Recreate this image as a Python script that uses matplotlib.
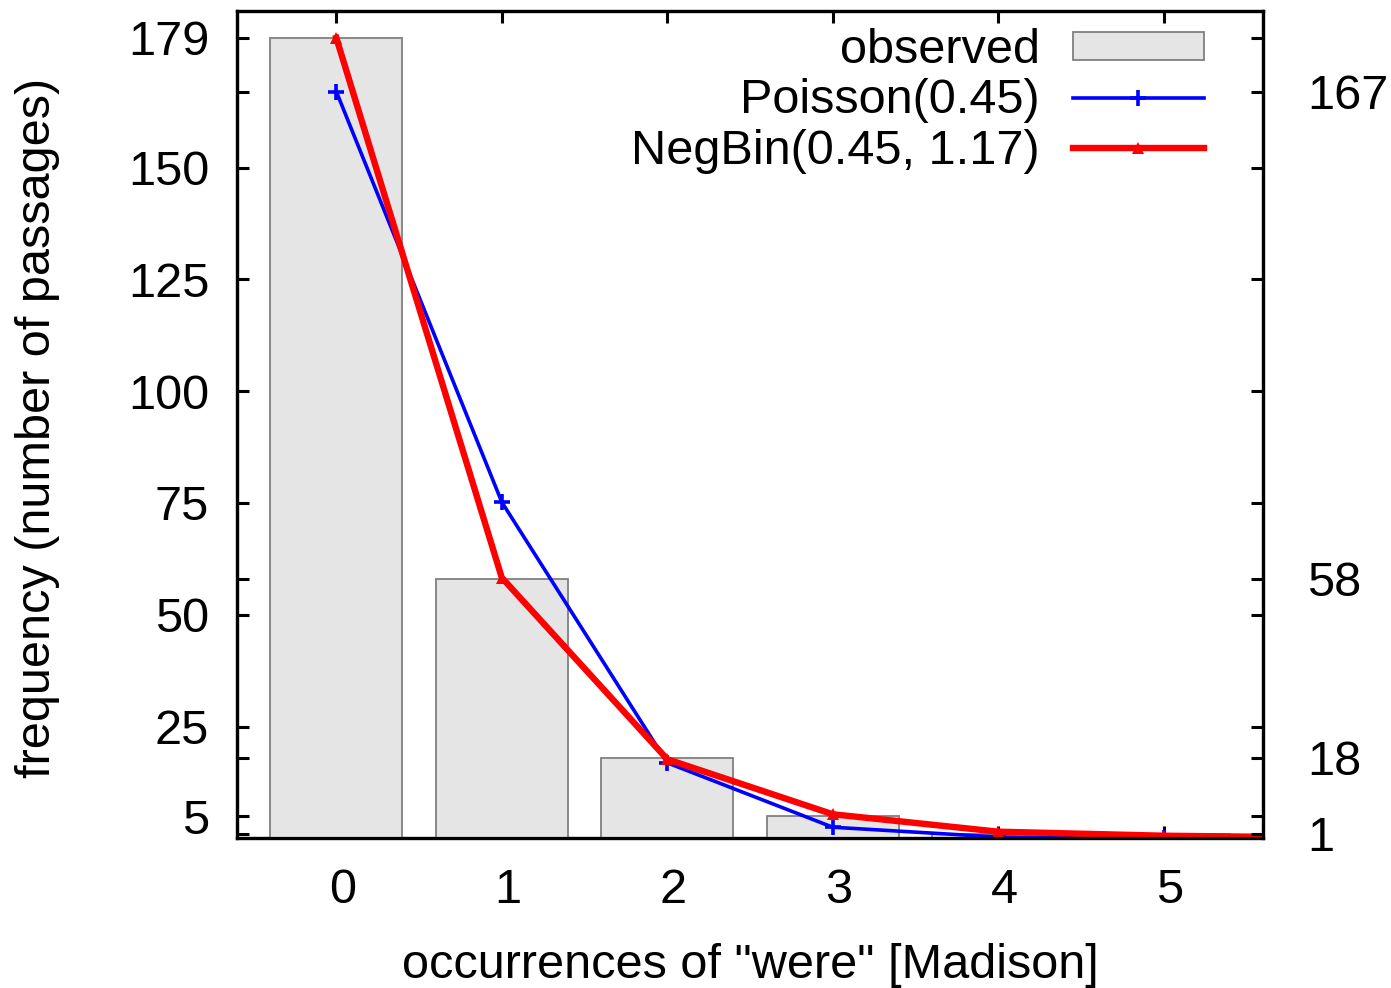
import matplotlib
matplotlib.use("Agg")
import matplotlib.pyplot as plt
from matplotlib.transforms import ScaledTranslation

# ---- data ----
occurrences = [0, 1, 2, 3, 4, 5]
observed = [179, 58, 18, 5, 1, 1]
poisson_x = [0, 1, 2, 3, 4, 5, 6]
poisson = [167.0, 75.2, 16.9, 2.5, 0.3, 0.03, 0.0]
negbin_x = [0, 1, 2, 3, 4, 5, 6]
negbin = [179.0, 58.3, 17.7, 5.4, 1.5, 0.6, 0.2]
left_ticks = [5, 25, 50, 75, 100, 125, 150, 179]
right_ticks = [1, 18, 58, 167]
x_ticks = [0, 1, 2, 3, 4, 5]
labels = ["observed", "Poisson(0.45)", "NegBin(0.45, 1.17)"]
xlabel = 'occurrences of "were" [Madison]'
ylabel = "frequency (number of passages)"

plt.rcParams['font.family'] = ['Liberation Sans', 'DejaVu Sans']
FS = 35

W, H = 1391, 988
fig = plt.figure(figsize=(W / 100, H / 100), dpi=100)
L, R, T, B = 237, 1263, 11, 838.4
ax = fig.add_axes([L / W, 1 - B / H, (R - L) / W, (B - T) / H])

h_bar = ax.bar(occurrences, observed, width=0.8, color="#e5e5e5",
               edgecolor="#808080", linewidth=1.3, zorder=3, label=labels[0])
h_poi, = ax.plot(poisson_x, poisson, color="#0000ff", lw=2.6, marker="+", ms=11, mew=2.6,
                 zorder=4, label=labels[1])
h_nb, = ax.plot(negbin_x, negbin, color="#ff0000", lw=4.6, marker="^", ms=8, mew=0,
                zorder=5, label=labels[2])

ax.set_xlim(-0.6, 5.6)
ax.set_ylim(0, 185)

ax.set_xticks(x_ticks)
ax.set_xticklabels([str(v) for v in x_ticks])
ax.set_yticks(left_ticks)
ax.set_yticks(right_ticks, minor=True)
ax.tick_params(axis='both', which='both', direction='in', length=8.6, width=2.2,
               labelsize=FS, top=True, right=False)
ax.tick_params(axis='y', which='major', pad=20)
ax.tick_params(axis='x', which='major', pad=21)
for lab in ax.get_xticklabels():
    lab.set_transform(lab.get_transform() + ScaledTranslation(6 / 100, 0, fig.dpi_scale_trans))

ax2 = ax.twinx()
ax2.set_ylim(0, 185)
ax2.set_yticks(right_ticks)
ax2.set_yticks(left_ticks, minor=True)
ax2.tick_params(axis='y', which='both', direction='in', length=8.6, width=2.2,
                labelsize=FS, pad=32)

for a in (ax, ax2):
    for s in a.spines.values():
        s.set_linewidth(2.3)
        s.set_color("black")
        s.set_zorder(2)

fig.text(750 / W, 1 - 978 / H, xlabel, fontsize=FS, ha='center', va='baseline')
fig.text(38 / W, 1 - 428 / H, ylabel, fontsize=FS, ha='center', va='center', rotation=90)

leg = ax.legend([h_bar, h_poi, h_nb], labels, loc='upper right',
                bbox_to_anchor=((1204 - L) / (R - L), 1 - 17 / (B - T)),
                frameon=False, markerfirst=False, fontsize=FS, handlelength=2.7,
                handletextpad=0.68, labelspacing=0.11, borderpad=0, borderaxespad=0,
                handleheight=0.5)

fig.savefig("out.png", dpi=100)
